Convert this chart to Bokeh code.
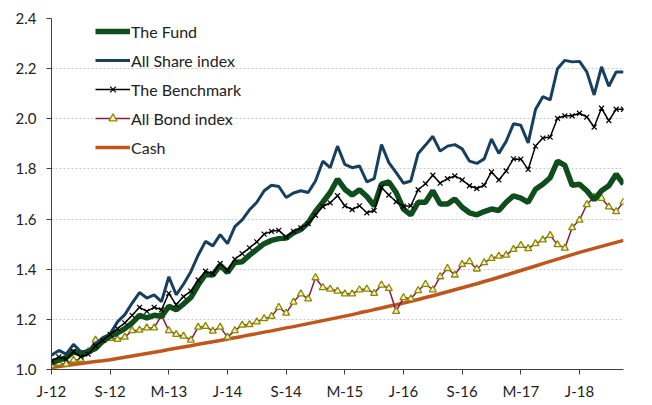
from bokeh.plotting import figure
from bokeh.models import FixedTicker, Legend, LegendItem, Range1d, PrintfTickFormatter
from bokeh.embed import file_html
from bokeh.resources import INLINE

tick_positions = [0, 8, 16, 24, 32, 40, 48, 56, 64, 72]
tick_labels = ["J-12", "S-12", "M-13", "J-14", "S-14", "M-15", "J-16", "S-16", "M-17", "J-18"]

fund = [1.028, 1.037, 1.047, 1.071, 1.061, 1.071, 1.084, 1.113, 1.133, 1.146,
        1.163, 1.186, 1.216, 1.206, 1.216, 1.212, 1.252, 1.238, 1.261, 1.287,
        1.337, 1.379, 1.377, 1.416, 1.387, 1.427, 1.430, 1.456, 1.479, 1.502,
        1.515, 1.522, 1.524, 1.545, 1.558, 1.585, 1.630, 1.667, 1.706, 1.759,
        1.719, 1.696, 1.717, 1.690, 1.653, 1.739, 1.748, 1.706, 1.640, 1.617,
        1.667, 1.667, 1.713, 1.660, 1.660, 1.680, 1.647, 1.625, 1.617, 1.630,
        1.640, 1.634, 1.667, 1.693, 1.684, 1.667, 1.719, 1.739, 1.765, 1.831,
        1.814, 1.735, 1.739, 1.713, 1.677, 1.713, 1.733, 1.779, 1.739]

all_share = [1.057, 1.076, 1.061, 1.100, 1.071, 1.074, 1.103, 1.126, 1.142, 1.190,
             1.219, 1.265, 1.307, 1.285, 1.298, 1.271, 1.370, 1.298, 1.340, 1.390,
             1.456, 1.511, 1.493, 1.538, 1.502, 1.570, 1.597, 1.637, 1.667, 1.713,
             1.735, 1.730, 1.686, 1.704, 1.713, 1.706, 1.752, 1.831, 1.805, 1.891,
             1.818, 1.805, 1.812, 1.748, 1.761, 1.897, 1.825, 1.785, 1.743, 1.752,
             1.862, 1.895, 1.930, 1.871, 1.891, 1.897, 1.880, 1.831, 1.822, 1.840,
             1.919, 1.862, 1.910, 1.980, 1.974, 1.904, 2.037, 2.088, 2.075, 2.200,
             2.233, 2.227, 2.229, 2.187, 2.095, 2.207, 2.130, 2.187, 2.187]

benchmark = [1.034, 1.050, 1.041, 1.071, 1.050, 1.061, 1.094, 1.116, 1.140, 1.163,
             1.186, 1.216, 1.248, 1.232, 1.248, 1.238, 1.304, 1.258, 1.291, 1.313,
             1.357, 1.392, 1.383, 1.423, 1.396, 1.440, 1.462, 1.485, 1.509, 1.540,
             1.551, 1.555, 1.528, 1.551, 1.565, 1.582, 1.615, 1.650, 1.665, 1.693,
             1.653, 1.638, 1.653, 1.625, 1.634, 1.726, 1.696, 1.669, 1.651, 1.653,
             1.717, 1.741, 1.775, 1.743, 1.761, 1.772, 1.756, 1.733, 1.722, 1.735,
             1.788, 1.756, 1.792, 1.840, 1.839, 1.798, 1.891, 1.923, 1.927, 2.002,
             2.012, 2.012, 2.022, 2.007, 1.967, 2.042, 1.993, 2.038, 2.038]

all_bond = [1.015, 1.025, 1.021, 1.037, 1.040, 1.071, 1.117, 1.117, 1.124, 1.120,
            1.129, 1.155, 1.157, 1.166, 1.166, 1.216, 1.155, 1.140, 1.133, 1.117,
            1.169, 1.172, 1.153, 1.169, 1.129, 1.155, 1.177, 1.179, 1.190, 1.203,
            1.212, 1.248, 1.225, 1.269, 1.302, 1.282, 1.366, 1.327, 1.321, 1.313,
            1.302, 1.302, 1.318, 1.321, 1.304, 1.337, 1.324, 1.232, 1.287, 1.282,
            1.315, 1.340, 1.318, 1.370, 1.403, 1.377, 1.419, 1.430, 1.401, 1.426,
            1.443, 1.452, 1.456, 1.479, 1.495, 1.482, 1.502, 1.517, 1.535, 1.498,
            1.484, 1.566, 1.596, 1.658, 1.688, 1.683, 1.649, 1.630, 1.668]

cash = [1.008, 1.012, 1.016, 1.020, 1.024, 1.028, 1.032, 1.035, 1.039, 1.044,
        1.049, 1.054, 1.059, 1.064, 1.069, 1.074, 1.080, 1.085, 1.090, 1.095,
        1.101, 1.106, 1.111, 1.116, 1.122, 1.127, 1.132, 1.138, 1.143, 1.149,
        1.154, 1.160, 1.166, 1.171, 1.177, 1.183, 1.189, 1.195, 1.201, 1.207,
        1.213, 1.219, 1.226, 1.232, 1.239, 1.245, 1.252, 1.258, 1.265, 1.272,
        1.279, 1.287, 1.294, 1.302, 1.310, 1.318, 1.326, 1.334, 1.342, 1.351,
        1.359, 1.368, 1.377, 1.386, 1.395, 1.404, 1.413, 1.422, 1.431, 1.440,
        1.449, 1.458, 1.467, 1.475, 1.483, 1.491, 1.499, 1.507, 1.515]

months = list(range(len(fund)))

FONT = "Lato"

p = figure(width=644, height=402, output_backend="svg", toolbar_location=None,
           x_range=Range1d(0, len(months) - 1), y_range=Range1d(1.0, 2.4),
           min_border_left=51, min_border_right=21, min_border_top=18, min_border_bottom=30)
p.outline_line_color = None
p.background_fill_color = "white"
p.border_fill_color = "white"

p.xgrid.grid_line_color = None
p.ygrid.grid_line_color = "#c8c8c8"
p.ygrid.grid_line_dash = "2 2"
p.ygrid.grid_line_width = 1

p.yaxis.ticker = FixedTicker(ticks=[1.0, 1.2, 1.4, 1.6, 1.8, 2.0, 2.2, 2.4])
p.yaxis.formatter = PrintfTickFormatter(format="%.1f")
p.xaxis.ticker = FixedTicker(ticks=tick_positions)
p.xaxis.major_label_overrides = {pos: lab for pos, lab in zip(tick_positions, tick_labels)}

for ax in (p.xaxis, p.yaxis):
    ax.axis_line_color = "#404040"
    ax.axis_line_width = 1
    ax.major_tick_line_color = "#404040"
    ax.major_tick_in = 0
    ax.major_tick_out = 5
    ax.minor_tick_line_color = None
    ax.major_label_text_font = FONT
    ax.major_label_text_font_size = "15px"
    ax.major_label_text_color = "#222222"
p.yaxis.major_label_standoff = 10
p.xaxis.major_label_standoff = 7

r_cash = p.line(months, cash, line_color="#c0561c", line_width=3.5)
r_bond_l = p.line(months, all_bond, line_color="#8b1a4a", line_width=1.5)
r_bond_m = p.scatter(months, all_bond, marker="triangle", size=7, line_color="#8a8a00",
                     fill_color="#f4f0c4", line_width=1.3)
r_share = p.line(months, all_share, line_color="#173f5f", line_width=3)
r_fund = p.line(months, fund, line_color="#0f4d1c", line_width=5.5)
r_bench_l = p.line(months, benchmark, line_color="#000000", line_width=1.5)
r_bench_m = p.scatter(months, benchmark, marker="x", size=7, line_color="#000000", line_width=1.2)

legend = Legend(items=[
    LegendItem(label="The Fund", renderers=[r_fund]),
    LegendItem(label="All Share index", renderers=[r_share]),
    LegendItem(label="The Benchmark", renderers=[r_bench_l, r_bench_m]),
    LegendItem(label="All Bond index", renderers=[r_bond_l, r_bond_m]),
    LegendItem(label="Cash", renderers=[r_cash]),
], location=(44, 212))
legend.background_fill_alpha = 0
legend.border_line_color = None
legend.padding = 0
legend.margin = 0
legend.spacing = 9
legend.glyph_width = 35
legend.glyph_height = 20
legend.label_height = 20
legend.label_standoff = 1
legend.label_text_font = FONT
legend.label_text_font_size = "16px"
legend.label_text_color = "#222222"
p.add_layout(legend, "center")

open("out.html", "w").write(file_html(p, INLINE))
